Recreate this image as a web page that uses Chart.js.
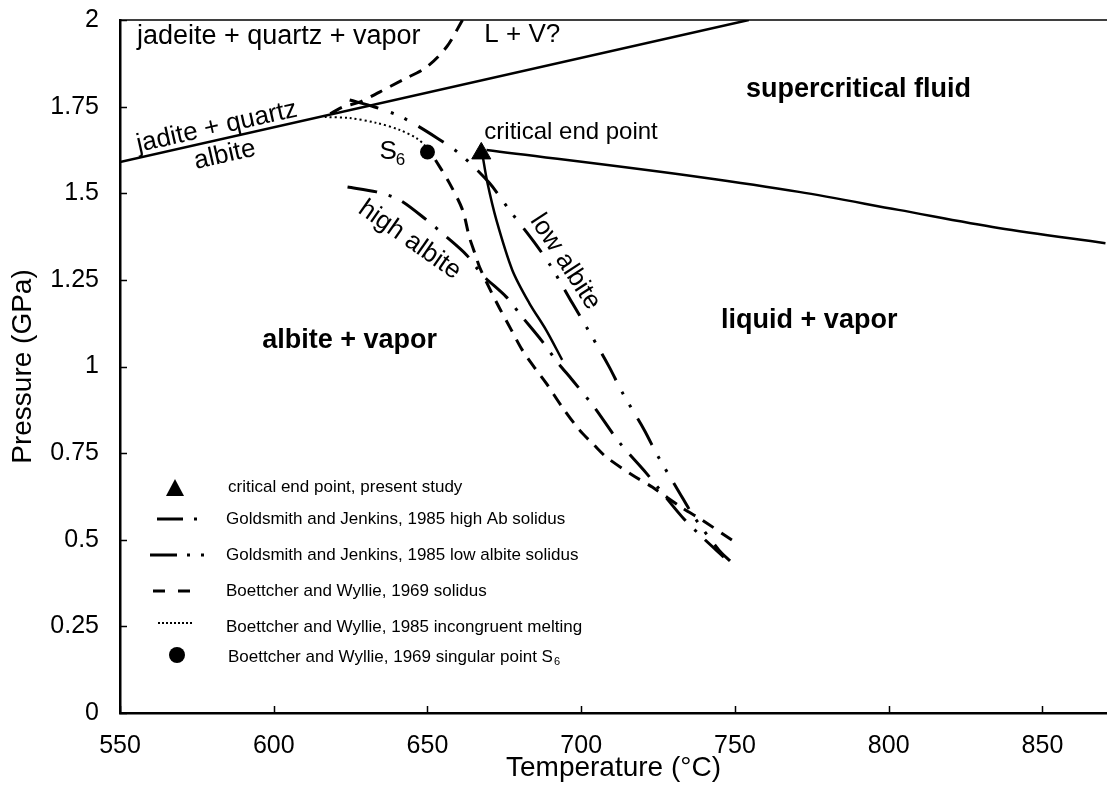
<!DOCTYPE html>
<html lang="en">
<head>
<meta charset="UTF-8" />
<title>Albite melting relations</title>
<script src="https://cdn.jsdelivr.net/npm/chart.js"></script>
<style>
  html, body { margin: 0; padding: 0; background: #fff; overflow: hidden; width: 1107px; height: 785px; }
  canvas { display: block; }
</style>
</head>
<body>
<!-- the frame is open on the right, so the plot runs off the page edge -->
<canvas id="chart" width="1119" height="785"></canvas>
<script>
// [temperature °C, pressure GPa]
const jdQzAb = [[550, 1.59], [754.5, 2.0]];
const bwSolidusUpper = [[661.4, 2.0], [656.2, 1.922], [649.7, 1.864], [641.9, 1.827], [634.4, 1.792], [627.9, 1.763], [622.4, 1.749], [616.6, 1.72]];
const bwSolidusLower = [[652.6, 1.596], [657.1, 1.53], [661.4, 1.452], [663.6, 1.374], [665.6, 1.322], [666.9, 1.288], [670.1, 1.227], [673.4, 1.169], [677.3, 1.105], [680.8, 1.048], [685.4, 0.99], [688.6, 0.952], [693.8, 0.883], [699.4, 0.817], [704.2, 0.773], [708.1, 0.739], [716.6, 0.687], [723.1, 0.652], [732.8, 0.592], [739.3, 0.557], [749.0, 0.499]];
const bwIncongruent = [[616.6, 1.72], [624.7, 1.717], [633.4, 1.703], [640.9, 1.683], [646.4, 1.659], [649.0, 1.639], [650.0, 1.619]];
const gjHighAb = [[624.0, 1.518], [633.4, 1.504], [640.9, 1.481], [649.7, 1.423], [656.2, 1.374], [662.7, 1.322], [667.9, 1.264], [675.6, 1.201], [680.8, 1.143], [687.0, 1.076], [692.2, 1.013], [697.1, 0.961], [704.2, 0.883], [712.3, 0.782], [721.1, 0.693], [732.8, 0.566], [739.3, 0.508], [746.4, 0.45]];
const gjLowAb = [[624.7, 1.769], [632.8, 1.749], [641.6, 1.72], [653.2, 1.659], [661.0, 1.61], [670.1, 1.53], [676.6, 1.452], [684.7, 1.359], [690.3, 1.287], [697.1, 1.183], [701.9, 1.111], [709.1, 0.999], [713.3, 0.926], [720.5, 0.817], [724.7, 0.745], [731.8, 0.638], [736.7, 0.566], [744.8, 0.47], [748.4, 0.439]];
const critSolidus = [[667.9, 1.61], [669.5, 1.53], [672.4, 1.423], [677.6, 1.278], [683.1, 1.183], [688.6, 1.105], [693.8, 1.019]];
const critCurve = [[669.2, 1.625], [738.3, 1.547], [770.8, 1.504], [803.2, 1.452], [835.7, 1.4], [870.5, 1.356]];
const critEndPoint = [[667.5, 1.615]];
const singularS6 = [[650.0, 1.619]];

const legendLabels = [
  'critical end point, present study',
  'Goldsmith and Jenkins, 1985 high Ab solidus',
  'Goldsmith and Jenkins, 1985 low albite solidus',
  'Boettcher and Wyllie, 1969 solidus',
  'Boettcher and Wyllie, 1985 incongruent melting',
  'Boettcher and Wyllie, 1969 singular point S'
];

const FONT = '"Liberation Sans", Arial, Helvetica, sans-serif';
const pts = arr => arr.map(([x, y]) => ({ x, y }));

function curve(data, dash, width, tension) {
  return {
    data: pts(data),
    showLine: true,
    borderColor: '#000',
    borderWidth: width,
    borderDash: dash,
    borderCapStyle: 'butt',
    pointRadius: 0,
    tension: tension === undefined ? 0.3 : tension,
    fill: false
  };
}

// region names, boundary labels, inward ticks, top frame and the key
const decorations = {
  id: 'decorations',
  afterDatasetsDraw(chart) {
    const { ctx, chartArea: a, scales: { x, y } } = chart;
    ctx.save();
    ctx.fillStyle = '#000';
    ctx.strokeStyle = '#000';

    // frame top + inward tick marks
    ctx.lineWidth = 1.5;
    ctx.beginPath();
    ctx.moveTo(a.left, a.top);
    ctx.lineTo(a.right, a.top);
    x.ticks.forEach(t => {
      const px = Math.round(x.getPixelForValue(t.value)) + 0.5;
      ctx.moveTo(px, a.bottom);
      ctx.lineTo(px, a.bottom - 7);
    });
    y.ticks.forEach(t => {
      const py = Math.round(y.getPixelForValue(t.value)) + 0.5;
      ctx.moveTo(a.left, py);
      ctx.lineTo(a.left + 7, py);
    });
    ctx.stroke();

    const text = (s, t, p, font, align, angle) => {
      ctx.save();
      ctx.font = font;
      ctx.textAlign = align;
      ctx.textBaseline = 'middle';
      ctx.translate(x.getPixelForValue(t), y.getPixelForValue(p));
      if (angle) ctx.rotate(angle * Math.PI / 180);
      ctx.fillText(s, 0, 0);
      ctx.restore();
    };
    const reg = '26px ' + FONT;
    const bold = 'bold 27px ' + FONT;
    text('jadeite + quartz + vapor', 555.5, 1.951, '27px ' + FONT, 'left');
    text('L + V?', 668.5, 1.957, reg, 'left');
    text('critical end point', 668.5, 1.677, '24px ' + FONT, 'left');
    text('supercritical fluid', 753.6, 1.798, bold, 'left');
    text('liquid + vapor', 745.5, 1.134, bold, 'left');
    text('albite + vapor', 624.7, 1.074, bold, 'center');
    text('jadite + quartz', 581.5, 1.691, reg, 'center', -12.7);
    text('albite', 584.1, 1.61, reg, 'center', -12.7);
    text('high albite', 644.2, 1.365, reg, 'center', 35);
    text('low albite', 694.8, 1.302, reg, 'center', 57);
    text('S', 634.4, 1.619, reg, 'left');
    text('6', 639.7, 1.595, '17px ' + FONT, 'left');

    // key
    const rows = [487, 519, 555, 591, 627, 657];
    ctx.font = '17px ' + FONT;
    ctx.textAlign = 'left';
    ctx.textBaseline = 'middle';
    legendLabels.forEach((s, i) => {
      const tx = (i === 0 || i === 5) ? 228 : 226;
      ctx.fillText(s, tx, rows[i]);
      if (i === 5) {
        const w = ctx.measureText(s).width;
        ctx.font = '11px ' + FONT;
        ctx.fillText('6', tx + w + 1, rows[i] + 5);
        ctx.font = '17px ' + FONT;
      }
    });
    // key symbols
    ctx.beginPath();
    ctx.moveTo(175, 479);
    ctx.lineTo(184, 496);
    ctx.lineTo(166, 496);
    ctx.closePath();
    ctx.fill();
    ctx.beginPath();
    ctx.arc(177, 655, 8, 0, Math.PI * 2);
    ctx.fill();
    const keyLine = (x0, x1, yy, dash, w) => {
      ctx.lineWidth = w;
      ctx.setLineDash(dash);
      ctx.beginPath();
      ctx.moveTo(x0, yy);
      ctx.lineTo(x1, yy);
      ctx.stroke();
    };
    keyLine(157, 199, 519, [26, 11, 3, 100], 3);
    keyLine(150, 205, 555, [27, 10, 3, 11, 3, 100], 3);
    keyLine(153, 190, 591, [12, 13], 3);
    keyLine(158, 192, 623, [2, 2], 2);
    ctx.restore();
  }
};

const axisFont = { family: FONT, size: 25 };
const titleFont = { family: FONT, size: 28 };

const crit = curve(critCurve, [], 2.5);
crit.cubicInterpolationMode = 'monotone';

new Chart(document.getElementById('chart'), {
  type: 'scatter',
  data: {
    datasets: [
      curve(jdQzAb, [], 2.5, 0),
      crit,
      curve(critSolidus, [], 2.5),
      curve(bwSolidusUpper, [13, 9], 3),
      curve(bwSolidusLower, [13, 9], 3),
      curve(bwIncongruent, [2, 3], 2),
      curve(gjHighAb, [30, 12, 3, 12], 3),
      curve(gjLowAb, [30, 13, 3, 12, 3, 13], 3),
      {
        data: pts(critEndPoint),
        pointStyle: 'triangle',
        pointRadius: 11,
        backgroundColor: '#000',
        borderColor: '#000',
        borderWidth: 1
      },
      {
        data: pts(singularS6),
        pointStyle: 'circle',
        pointRadius: 7.5,
        backgroundColor: '#000',
        borderColor: '#000',
        borderWidth: 0
      }
    ]
  },
  options: {
    responsive: false,
    animation: false,
    layout: { padding: { top: 20, right: 0, left: 0, bottom: 0 } },
    plugins: { legend: { display: false }, tooltip: { enabled: false } },
    scales: {
      x: {
        type: 'linear',
        min: 550,
        max: 871,
        grid: { display: false, drawTicks: false, tickLength: 0 },
        border: { display: true, color: '#000', width: 2.5 },
        ticks: {
          stepSize: 50,
          includeBounds: false,
          autoSkip: false,
          maxRotation: 0,
          padding: 18,
          color: '#000',
          font: axisFont,
          callback: v => String(v)
        },
        title: {
          display: true,
          text: 'Temperature (°C)',
          color: '#000',
          font: titleFont,
          padding: { top: 0, bottom: 0 }
        },
        afterFit: s => {
          s.height = 72;
          s.paddingLeft = 0;
          s.paddingRight = 0;
        }
      },
      y: {
        min: 0,
        max: 2,
        grid: { display: false, drawTicks: false, tickLength: 0 },
        border: { display: true, color: '#000', width: 2.5 },
        ticks: {
          stepSize: 0.25,
          autoSkip: false,
          padding: 21,
          color: '#000',
          font: axisFont,
          callback: v => String(v)
        },
        title: {
          display: true,
          text: 'Pressure (GPa)',
          color: '#000',
          font: titleFont,
          padding: { top: 6, bottom: 0 }
        },
        afterFit: s => {
          s.width = 120;
          s.paddingTop = 0;
          s.paddingBottom = 0;
        }
      }
    }
  },
  plugins: [decorations]
});
</script>
</body>
</html>
